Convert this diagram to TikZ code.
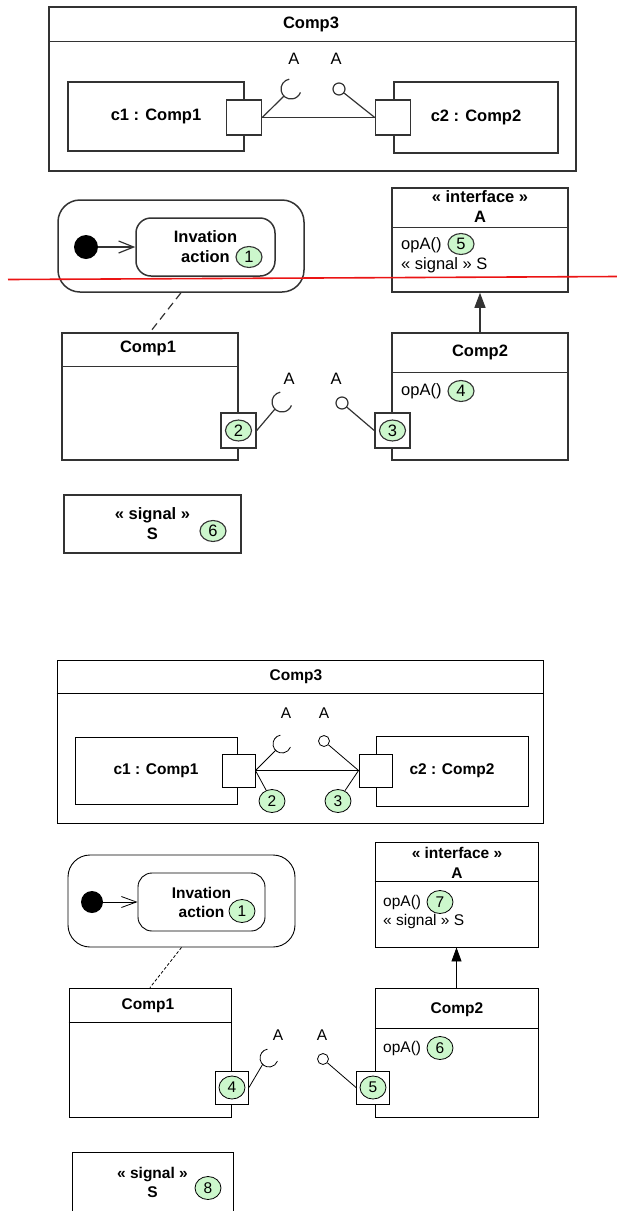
\documentclass[tikz,border=0pt]{standalone}
\usepackage{fontspec}
\setmainfont{Liberation Sans}
\usepackage{xcolor}
\usepackage{tikz}
\usetikzlibrary{arrows.meta,shapes.geometric}
\definecolor{notegreen}{RGB}{204,247,204}
\definecolor{markred}{RGB}{235,20,20}
\newcommand{\topfont}{\fontsize{16.5}{20}\selectfont}
\newcommand{\lowfont}{\fontsize{15.5}{19}\selectfont}

\begin{document}
\begin{tikzpicture}[x=1pt,y=-1pt,
  box/.style={draw,inner sep=0pt,align=center},
  boxT/.style={box,draw=black!80,line width=1.5pt,font=\topfont\bfseries},
  boxB/.style={box,line width=0.9pt,font=\lowfont\bfseries},
  portT/.style={boxT,fill=white,minimum size=35pt},
  portB/.style={boxB,fill=white,minimum size=33pt},
  num/.style={ellipse,draw,fill=notegreen,inner sep=0pt},
  numT/.style={num,draw=black!80,line width=1.1pt,minimum width=26pt,minimum height=21pt,font=\topfont},
  numB/.style={num,line width=0.8pt,minimum width=26pt,minimum height=23pt,font=\lowfont},
  lineT/.style={draw=black!80,line width=1.2pt},
  lineB/.style={line width=0.8pt},
  lolT/.style={circle,lineT,fill=white,minimum size=12pt,inner sep=0pt},
  lolB/.style={circle,lineB,draw,fill=white,minimum size=11pt,inner sep=0pt},
  txtT/.style={inner sep=0pt,align=center,font=\topfont},
  txtB/.style={inner sep=0pt,align=center,font=\lowfont},
  dotT/.style={circle,fill=black,minimum size=24pt,inner sep=0pt},
  dotB/.style={circle,fill=black,minimum size=22pt,inner sep=0pt}
]
\useasboundingbox (0,0) rectangle (617,1211);

% ---------- upper copy ----------
\node[boxT,minimum width=527pt,minimum height=164pt] (C3a) at (312.5,89) {};
\draw[lineT,line width=1.5pt] ([yshift=-35pt]C3a.north west) -- ([yshift=-35pt]C3a.north east);
\node[txtT,font=\topfont\bfseries] (C3at) at (311,24) {Comp3};
\node[boxT,minimum width=176pt,minimum height=69pt] (c1a) at (156,116.5) {c1 : Comp1};
\node[boxT,minimum width=164pt,minimum height=71pt] (c2a) at (476,117.5) {c2 : Comp2};
\node[portT] (p1a) at (244,117.5) {};
\node[portT] (p2a) at (393,117.5) {};
\node[txtT] (Aa1) at (294,59) {A};
\node[txtT] (Aa2) at (336,59) {A};
\coordinate (ska) at (291,89);
\node[lolT] (loa) at (339,89) {};
\draw[lineT] (p1a.east) -- (p2a.west);
\draw[lineT] (p1a.east) -- ([shift={(225:10pt)}]ska);
\draw[lineT] ([shift={(100:10pt)}]ska) arc[start angle=100,end angle=340,radius=10pt];
\draw[lineT] (loa) -- (p2a.west);

\node[boxT,rounded corners=22pt,minimum width=246pt,minimum height=92pt] (st1a) at (181,246) {};
\node[boxT,rounded corners=15pt,minimum width=139pt,minimum height=58pt] (act1a) at (205.5,247) {Invation\\action};
\node[dotT] (ini1a) at (86,247) {};
\draw[lineT,-{Straight Barb[length=15pt,width=12pt]}] (ini1a) -- (act1a);
\node[numT] (n1a) at (249,257) {1};

\node[boxT,minimum width=176pt,minimum height=104pt] (ifa) at (480,240) {};
\draw[lineT,line width=1.5pt] ([yshift=-40pt]ifa.north west) -- ([yshift=-40pt]ifa.north east);
\node[txtT,font=\topfont\bfseries] (ifat) at (480,207) {« interface »\\A};
\node[txtT,anchor=west] (op1a) at (401,245) {opA()};
\node[numT] (n5a) at (461,244) {5};
\node[txtT,anchor=west] (sg1a) at (401,265) {« signal » S};

\node[boxT,minimum width=176pt,minimum height=127pt] (cp1a) at (150,396.5) {};
\draw[lineT,line width=1.5pt] ([yshift=-34pt]cp1a.north west) -- ([yshift=-34pt]cp1a.north east);
\node[txtT,font=\topfont\bfseries] (cp1at) at (148,348) {Comp1};
\node[boxT,minimum width=176pt,minimum height=127pt] (cp2a) at (480,396.5) {};
\draw[lineT,line width=1.5pt] ([yshift=-40pt]cp2a.north west) -- ([yshift=-40pt]cp2a.north east);
\node[txtT,font=\topfont\bfseries] (cp2at) at (480,352) {Comp2};
\node[txtT,anchor=west] (op2a) at (401,391) {opA()};
\node[numT] (n4a) at (461,391) {4};

\node[portT] (p3a) at (238.5,430.5) {};
\node[portT] (p4a) at (392.5,430.5) {};
\node[numT] (n2a) at (p3a) {2};
\node[numT] (n3a) at (p4a) {3};
\node[txtT] (Ab1) at (289,379) {A};
\node[txtT] (Ab2) at (336,379) {A};
\coordinate (skb) at (282,402);
\node[lolT] (lob) at (342,403) {};
\draw[lineT] (p3a.east) -- ([shift={(225:10pt)}]skb);
\draw[lineT] ([shift={(100:10pt)}]skb) arc[start angle=100,end angle=340,radius=10pt];
\draw[lineT] (lob) -- (p4a.west);

\draw[lineT,dash pattern=on 8pt off 5pt] (st1a.south) -- (cp1a.north);
\draw[lineT,-{Triangle[length=15pt,width=11pt]}] (cp2a.north) -- (ifa.south);

\node[boxT,minimum width=177pt,minimum height=58pt] (sga) at (152.5,524) {« signal »\\S};
\node[numT] (n6a) at (213,531) {6};

% ---------- lower copy ----------
\node[boxB,minimum width=486pt,minimum height=163pt] (C3b) at (300,741.5) {};
\draw[lineB,line width=0.9pt] ([yshift=-34pt]C3b.north west) -- ([yshift=-34pt]C3b.north east);
\node[txtB,font=\lowfont\bfseries] (C3bt) at (296,677) {Comp3};
\node[boxB,minimum width=162pt,minimum height=67pt] (c1b) at (156,770.5) {c1 : Comp1};
\node[boxB,minimum width=152pt,minimum height=70pt] (c2b) at (452,771) {c2 : Comp2};
\node[portB] (p1b) at (238.5,770.5) {};
\node[portB] (p2b) at (375.5,770.5) {};
\node[txtB] (Ac1) at (286,713) {A};
\node[txtB] (Ac2) at (324,713) {A};
\coordinate (skc) at (282,744);
\node[lolB] (loc) at (324,741) {};
\draw[lineB] (p1b.east) -- (p2b.west);
\draw[lineB] (p1b.east) -- ([shift={(225:9pt)}]skc);
\draw[lineB] ([shift={(100:9pt)}]skc) arc[start angle=100,end angle=340,radius=9pt];
\draw[lineB] (loc) -- (p2b.west);
\node[numB] (n2b) at (272,801) {2};
\node[numB] (n3b) at (338,801) {3};
\draw[lineB] (p1b.east) -- (n2b);
\draw[lineB] (p2b.west) -- (n3b);

\node[boxB,rounded corners=22pt,minimum width=227pt,minimum height=92pt] (st1b) at (181.5,901) {};
\node[boxB,rounded corners=14pt,minimum width=127pt,minimum height=58pt] (act1b) at (201.5,902) {Invation\\action};
\node[dotB] (ini1b) at (92,902) {};
\draw[lineB,-{Straight Barb[length=15pt,width=11pt]}] (ini1b) -- (act1b);
\node[numB] (n1b) at (242,911) {1};

\node[boxB,minimum width=163pt,minimum height=105pt] (ifb) at (456.5,894.5) {};
\draw[lineB,line width=0.9pt] ([yshift=-40pt]ifb.north west) -- ([yshift=-40pt]ifb.north east);
\node[txtB,font=\lowfont\bfseries] (ifbt) at (457,863) {« interface »\\[1pt]A};
\node[txtB,anchor=west] (op1b) at (383,902) {opA()};
\node[numB] (n7b) at (440,902) {7};
\node[txtB,anchor=west] (sg1b) at (383,921) {« signal » S};

\node[boxB,minimum width=162pt,minimum height=129pt] (cp1b) at (150,1052.5) {};
\draw[lineB,line width=0.9pt] ([yshift=-35pt]cp1b.north west) -- ([yshift=-35pt]cp1b.north east);
\node[txtB,font=\lowfont\bfseries] (cp1bt) at (148,1006) {Comp1};
\node[boxB,minimum width=163pt,minimum height=129pt] (cp2b) at (456.5,1052.5) {};
\draw[lineB,line width=0.9pt] ([yshift=-41pt]cp2b.north west) -- ([yshift=-41pt]cp2b.north east);
\node[txtB,font=\lowfont\bfseries] (cp2bt) at (457,1010) {Comp2};
\node[txtB,anchor=west] (op2b) at (383,1048) {opA()};
\node[numB] (n6b) at (440,1048) {6};

\node[portB] (p3b) at (232,1087.5) {};
\node[portB] (p4b) at (373,1087.5) {};
\node[numB] (n4b) at (p3b) {4};
\node[numB] (n5b) at (p4b) {5};
\node[txtB] (Ad1) at (278,1035) {A};
\node[txtB] (Ad2) at (322,1035) {A};
\coordinate (skd) at (269,1058);
\node[lolB] (lod) at (323,1059) {};
\draw[lineB] (p3b.east) -- ([shift={(225:9pt)}]skd);
\draw[lineB] ([shift={(100:9pt)}]skd) arc[start angle=100,end angle=340,radius=9pt];
\draw[lineB] (lod) -- (p4b.west);

\draw[lineB,dash pattern=on 3pt off 2pt] (st1b.south) -- (cp1b.north);
\draw[lineB,-{Triangle[length=14pt,width=10pt]}] (cp2b.north) -- (ifb.south);

\node[boxB,minimum width=161pt,minimum height=61pt] (sgb) at (152.5,1182.5) {« signal »\\S};
\node[numB] (n8b) at (208,1188) {8};

% red mark across the upper copy
\coordinate (redL) at (8,279.5);
\coordinate (redR) at (617,276.5);
\draw[markred,line width=1.6pt] (redL) -- (redR);
\end{tikzpicture}
\end{document}
